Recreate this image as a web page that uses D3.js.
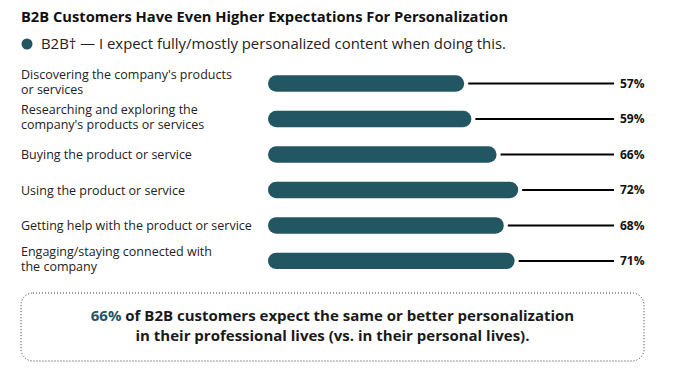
<!DOCTYPE html>
<html>
<head>
<meta charset="utf-8">
<script src="https://cdn.jsdelivr.net/npm/d3@7"></script>
<style>
  body { margin: 0; background: #fff; }
  svg { display: block; font-family: "Open Sans", sans-serif; }
</style>
</head>
<body>
<svg id="chart"></svg>
<script>
const width = 675;
const height = 369;
const barColor = '#235663';

// data
const categories = [
    ["Discovering the company's products", "or services"],
    ["Researching and exploring the", "company's products or services"],
    ["Buying the product or service"],
    ["Using the product or service"],
    ["Getting help with the product or service"],
    ["Engaging/staying connected with", "the company"],
];
const values = [57, 59, 66, 72, 68, 71];
const valueLabels = ['57%', '59%', '66%', '72%', '68%', '71%'];

const svg = d3.select('#chart')
    .attr('width', width)
    .attr('height', height);

// title + legend
svg.append('text')
    .attr('x', 21)
    .attr('y', 22)
    .attr('font-size', 14.7)
    .attr('font-weight', 700)
    .attr('fill', '#111')
    .text('B2B Customers Have Even Higher Expectations For Personalization');

svg.append('circle')
    .attr('cx', 27)
    .attr('cy', 44)
    .attr('r', 5.5)
    .attr('fill', barColor);

svg.append('text')
    .attr('x', 41)
    .attr('y', 49)
    .attr('font-size', 14.9)
    .attr('fill', '#222')
    .text('B2B\u2020 \u2014 I expect fully/mostly personalized content when doing this.');

// scales
const x = d3.scaleLinear()
    .domain([0, 100])
    .range([259, 619]);

const y = d3.scaleBand()
    .domain(d3.range(values.length))
    .range([56.3, 288.1])
    .padding(0.535);

const barStart = 268;
const lineEnd = 614;

const rows = svg.selectAll('g.row')
    .data(values)
    .join('g')
    .attr('class', 'row')
    .attr('transform', (d, i) => `translate(0,${y(i) + y.bandwidth() / 2})`);

rows.append('rect')
    .attr('x', barStart)
    .attr('y', -y.bandwidth() / 2)
    .attr('width', d => x(d) - barStart)
    .attr('height', y.bandwidth())
    .attr('rx', y.bandwidth() / 2)
    .attr('fill', barColor);

rows.append('line')
    .attr('x1', d => x(d) + 4)
    .attr('x2', lineEnd)
    .attr('stroke', '#000')
    .attr('stroke-width', 2);

rows.append('text')
    .attr('x', 620)
    .attr('dy', '0.36em')
    .attr('font-size', 12)
    .attr('font-weight', 700)
    .attr('fill', '#111')
    .text((d, i) => valueLabels[i]);

// category labels (one or two lines)
rows.append('text')
    .attr('font-size', 12.5)
    .attr('fill', '#222')
    .each(function(d, i) {
        const lines = categories[i];
        const t = d3.select(this);
        const first = lines.length === 1 ? 5 : -5;
        lines.forEach((ln, j) => {
            t.append('tspan')
                .attr('x', 21)
                .attr('y', first + j * 15.5)
                .text(ln);
        });
    });

// callout box
svg.append('rect')
    .attr('x', 21)
    .attr('y', 293)
    .attr('width', 623)
    .attr('height', 68)
    .attr('rx', 12)
    .attr('fill', 'none')
    .attr('stroke', '#333')
    .attr('stroke-width', 1)
    .attr('stroke-dasharray', '1 2');

const note = svg.append('text')
    .attr('text-anchor', 'middle')
    .attr('font-size', 15)
    .attr('font-weight', 700)
    .attr('fill', '#1a1a1a');

const l1 = note.append('tspan').attr('x', 332.5).attr('y', 321);
l1.append('tspan').attr('fill', barColor).text('66%');
l1.append('tspan').text(' of B2B customers expect the same or better personalization');
note.append('tspan').attr('x', 332.5).attr('y', 341)
    .text('in their professional lives (vs. in their personal lives).');
</script>
</body>
</html>
